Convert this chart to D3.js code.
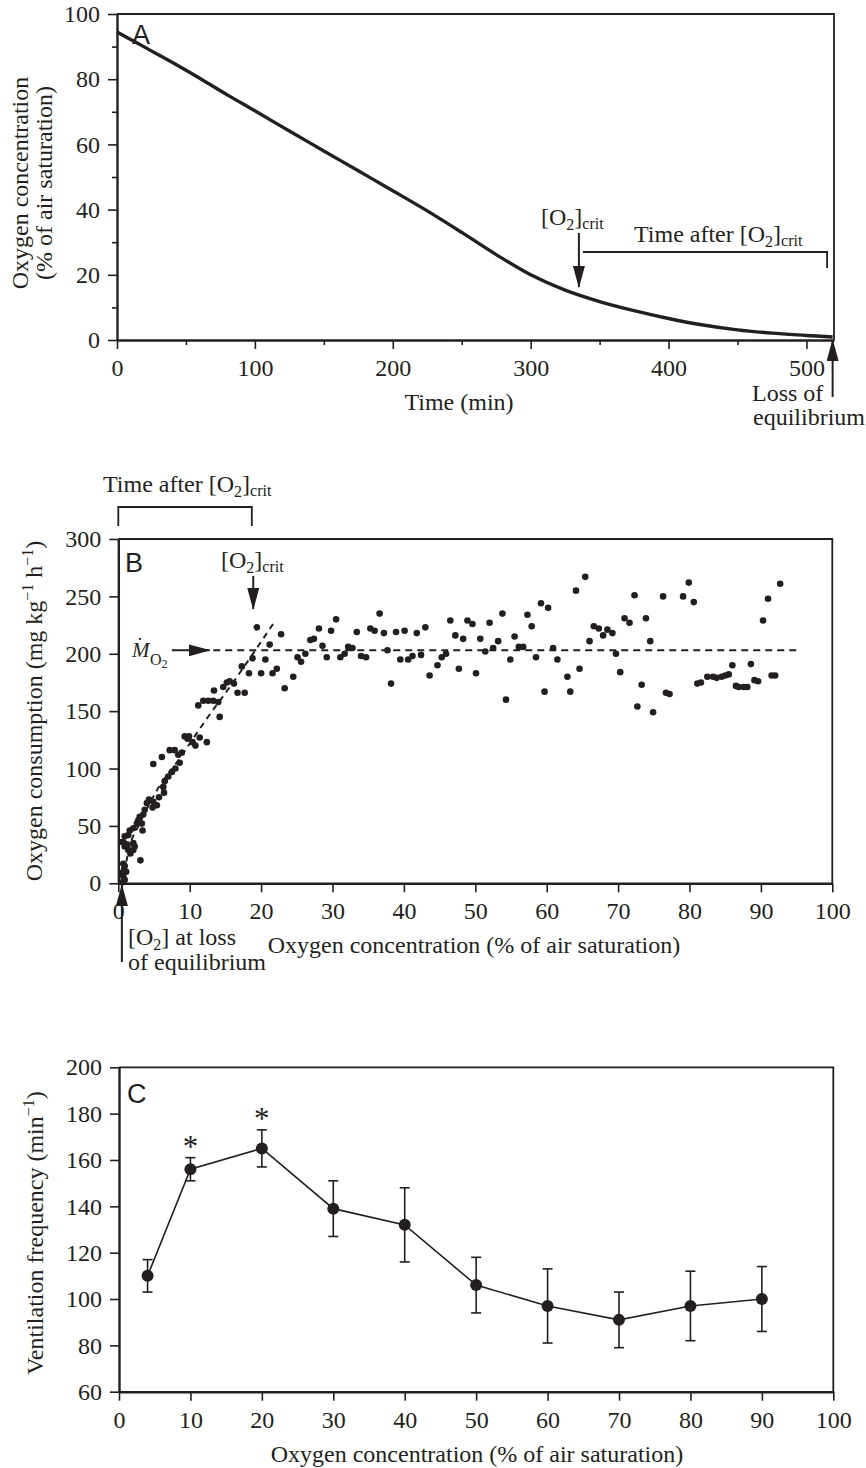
<!DOCTYPE html>
<html>
<head>
<meta charset="utf-8">
<script src="https://cdn.jsdelivr.net/npm/d3@7"></script>
<style>
body { margin: 0; background: #fff; }
svg text { font-family: "Liberation Serif", "Times New Roman", serif; fill: #231f20; }
</style>
</head>
<body>
<svg id="chart" width="866" height="1468"></svg>
<script>
// A: oxygen level in the closed respirometer over time
var timeMin = [0, 15, 30, 45, 60, 80, 100, 125, 150, 175, 200, 225, 250, 275, 300, 325, 350, 375, 400, 425, 450, 475, 500, 519]
var oxygenA = [94.5, 91, 87.5, 84, 80.3, 75.2, 70.3, 64.1, 58, 51.9, 45.8, 39.6, 33, 26.2, 20, 15.3, 11.8, 9, 6.6, 4.6, 3.1, 2.1, 1.4, 0.9]
var timeTicks = [0, 100, 200, 300, 400, 500]
var timeMinor = [50, 150, 250, 350, 450]
var oxyTicksA = [0, 20, 40, 60, 80, 100]
var oxyMinorA = [10, 30, 50, 70, 90]
var critTime = 335
var lossTime = 519

// B: oxygen consumption against oxygen concentration
var o2B = [0.6,0.9,0.7,0.5,1.1,0.8,0.9,0.7,3.1,1.7,1.4,2.1,0.9,2.3,1.2,2.1,0.7,0.5,1.4,0.9,1.6,3.4,2.1,2.6,3.3,2.8,3.0,3.5,3.7,4.8,5.4,4.0,4.9,4.3,5.7,6.4,6.3,6.5,7.0,7.5,8.0,4.9,8.6,6.1,8.4,8.9,7.2,7.9,10.8,10.4,12.4,9.7,11.4,9.3,9.9,14.2,11.2,14.0,11.9,12.6,13.3,16.7,17.7,13.4,14.7,16.2,15.2,15.6,18.3,17.3,
  19.4,18.8,20.0,20.6,21.2,21.6,22.2,22.8,23.3,24.5,25.1,25.6,26.2,26.9,27.4,28.1,28.6,29.2,29.8,30.5,31.1,31.7,32.2,32.8,33.4,34.0,34.7,35.3,35.9,36.6,37.2,37.7,38.2,38.9,39.5,40.1,40.6,41.2,41.8,42.4,43.0,43.6,44.7,45.3,45.9,46.5,47.2,47.7,48.3,48.9,49.6,50.1,50.7,51.4,52.0,52.5,53.2,53.8,54.3,54.9,55.5,56.1,56.7,57.3,57.9,58.5,59.2,59.7,60.2,
  60.9,61.5,62.9,63.3,64.1,64.6,65.4,66.0,66.6,67.3,67.9,68.5,69.2,69.7,70.3,70.9,71.6,72.3,72.7,73.3,73.9,74.5,74.9,76.3,76.7,77.2,79.1,79.9,80.6,81.1,81.6,82.5,83.3,83.8,84.5,85.0,85.5,86.0,86.5,86.9,87.6,88.1,88.6,89.1,89.6,90.3,91.0,91.5,92.0,92.7]
var mo2B = [1,3,6,9,10,12,15,17,20,26,29,29,32,32,34,35,36,36,42,41,46,46,48,52,52,55,58,60,64,66,68,70,71,73,75,79,84,89,93,97,100,104,105,110,112,114,116,116,120,123,123,126,127,128,128,145,155,158,159,159,159,166,166,168,171,174,175,176,183,189,
  223,196,183,195,208,183,187,217,170,180,197,193,200,212,213,222,207,197,220,230,197,200,206,205,219,198,197,222,220,235,218,203,174,219,195,220,195,198,218,199,223,181,190,197,200,229,216,187,213,229,226,183,213,202,227,205,211,235,160,195,215,206,206,234,224,197,244,167,240,
  205,195,180,167,255,187,267,211,224,222,216,221,218,200,184,231,227,251,154,173,231,211,149,250,166,165,250,262,245,174,175,180,180,179,180,181,182,190,172,171,171,171,191,177,176,229,248,181,181,261]
// dashed fit through the oxygen-dependent part
var fitX = [0.6, 1.5, 3, 5.5, 8.5, 12, 16.3, 22]
var fitY = [0, 30, 52, 82, 108, 140, 177, 229]
var mo2Routine = 203
var routineFrom = 13.3, routineTo = 95.2
var o2Crit = 18.9
var o2Loss = 0.5
var o2TicksB = d3.range(0, 101, 10)
var mo2Ticks = d3.range(0, 301, 50)

// C: ventilation frequency, mean with error bars
var o2C = [4, 10, 20, 30, 40, 50, 60, 70, 80, 90]
var ventFreq = [110, 156, 165, 139, 132, 106, 97, 91, 97, 100]
var ventLow = [103, 151, 157, 127, 116, 94, 81, 79, 82, 86]
var ventHigh = [117, 161, 173, 151, 148, 118, 113, 103, 112, 114]
var signif = [10, 20]
var o2TicksC = d3.range(0, 101, 10)
var ventTicks = d3.range(60, 201, 20)

var ink = '#231f20'
var svg = d3.select('#chart')

svg.append('defs').append('marker')
    .attr('id', 'head')
    .attr('viewBox', '0 0 22 12')
    .attr('refX', 21).attr('refY', 6)
    .attr('markerWidth', 22).attr('markerHeight', 12)
    .attr('markerUnits', 'userSpaceOnUse')
    .attr('orient', 'auto')
    .append('path').attr('d', 'M0,0L22,6L0,12Z').attr('fill', ink)

// text made of pieces: [string, font size, dy]
function rich(t, parts) {
    parts.forEach(p => t.append('tspan').attr('font-size', p[1]).attr('dy', p[2]).text(p[0]))
    return t
}

function arrow(x1, y1, x2, y2) {
    svg.append('line')
        .attr('x1', x1).attr('y1', y1).attr('x2', x2).attr('y2', y2)
        .attr('stroke', ink).attr('stroke-width', 2)
        .attr('marker-end', 'url(#head)')
}

function frame(x, y, xTicks, yTicks, xMinor, yMinor) {
    var xr = x.range(), yr = y.range()
    var bottom = svg.append('g')
        .attr('transform', `translate(0,${yr[0]})`)
        .call(d3.axisBottom(x).tickValues(xTicks).tickSize(9).tickPadding(10).tickSizeOuter(0))
    var left = svg.append('g')
        .attr('transform', `translate(${xr[0]},0)`)
        .call(d3.axisLeft(y).tickValues(yTicks).tickSize(9).tickPadding(8).tickSizeOuter(0))
    if (xMinor) svg.append('g').attr('transform', `translate(0,${yr[0]})`)
        .call(d3.axisBottom(x).tickValues(xMinor).tickSize(5).tickFormat('').tickSizeOuter(0))
        .call(g => g.select('.domain').remove())
    if (yMinor) svg.append('g').attr('transform', `translate(${xr[0]},0)`)
        .call(d3.axisLeft(y).tickValues(yMinor).tickSize(5).tickFormat('').tickSizeOuter(0))
        .call(g => g.select('.domain').remove())
    svg.selectAll('.tick line').attr('stroke-width', 1.6)
    ;[bottom, left].forEach(g => {
        g.attr('font-size', 24).attr('font-family', null).attr('color', ink)
        g.select('.domain').attr('stroke-width', 2.4)
    })
    svg.selectAll('.tick').attr('color', ink)
    svg.append('path')
        .attr('d', `M${xr[0]},${yr[1]}H${xr[1]}V${yr[0]}`)
        .attr('fill', 'none').attr('stroke', ink).attr('stroke-width', 1.8)
}

function yTitle(cx, cy, lines) {
    var t = svg.append('text')
        .attr('transform', `translate(${cx},${cy}) rotate(-90)`)
        .attr('text-anchor', 'middle').attr('font-size', 24)
    lines.forEach((parts, i) => {
        var first = t.append('tspan').attr('x', 0).attr('dy', i ? 24 : 0)
        parts.forEach((p, j) => {
            var s = j ? t.append('tspan') : first
            s.attr('font-size', p[1]).text(p[0])
            if (j) s.attr('dy', p[2])
        })
    })
}

function panelLetter(x, y, s) {
    svg.append('text').attr('x', x).attr('y', y)
        .attr('font-size', 27).style('font-family', '"Liberation Sans", Arial, sans-serif')
        .text(s)
}

// ---------- panel A ----------
var xA = d3.scaleLinear().domain([0, 520]).range([117, 834])
var yA = d3.scaleLinear().domain([0, 100]).range([340, 14])

frame(xA, yA, timeTicks, oxyTicksA, timeMinor, oxyMinorA)

svg.append('path')
    .datum(d3.zip(timeMin, oxygenA))
    .attr('fill', 'none').attr('stroke', ink).attr('stroke-width', 3.4)
    .attr('d', d3.line().x(d => xA(d[0])).y(d => yA(d[1])).curve(d3.curveCatmullRom))

panelLetter(132, 44, 'A')
yTitle(28, 183, [[['Oxygen concentration', 24]], [['(% of air saturation)', 24]]])
svg.append('text').attr('x', 459).attr('y', 410).attr('text-anchor', 'middle').attr('font-size', 24).text('Time (min)')

rich(svg.append('text').attr('x', 541).attr('y', 225), [['[O', 24, 0], ['2', 16, 5], [']', 24, -5], ['crit', 16, 4]])
arrow(xA(critTime), 233, xA(critTime), 287)
svg.append('path')
    .attr('d', `M${xA(critTime) + 4},252H${xA(515)}V268`)
    .attr('fill', 'none').attr('stroke', ink).attr('stroke-width', 1.8)
rich(svg.append('text').attr('x', 634).attr('y', 242), [['Time after [O', 24, 0], ['2', 16, 5], [']', 24, -5], ['crit', 16, 4]])

arrow(xA(lossTime), 397, xA(lossTime), 340)
var lossA = svg.append('text').attr('font-size', 24)
lossA.append('tspan').attr('x', 752).attr('y', 401).text('Loss of')
lossA.append('tspan').attr('x', 753).attr('y', 425).text('equilibrium')

// ---------- panel B ----------
var xB = d3.scaleLinear().domain([0, 100]).range([118.3, 832.3])
var yB = d3.scaleLinear().domain([0, 300]).range([883.3, 539])

frame(xB, yB, o2TicksB, mo2Ticks)

svg.append('path')
    .datum(d3.zip(fitX, fitY))
    .attr('fill', 'none').attr('stroke', ink).attr('stroke-width', 2).attr('stroke-dasharray', '6,5')
    .attr('d', d3.line().x(d => xB(d[0])).y(d => yB(d[1])).curve(d3.curveMonotoneX))

svg.append('line')
    .attr('x1', xB(routineFrom)).attr('x2', xB(routineTo))
    .attr('y1', yB(mo2Routine)).attr('y2', yB(mo2Routine))
    .attr('stroke', ink).attr('stroke-width', 2).attr('stroke-dasharray', '7,5')

svg.append('g').selectAll('circle')
    .data(d3.zip(o2B, mo2B))
    .enter().append('circle')
    .attr('cx', d => xB(d[0]))
    .attr('cy', d => yB(d[1]))
    .attr('r', 3.3)
    .attr('fill', ink)

panelLetter(125, 572, 'B')
yTitle(42, 711, [[['Oxygen consumption (mg kg', 24, 0], ['\u22121', 16, -9], [' h', 24, 9], ['\u22121', 16, -9], [')', 24, 9]]])
svg.append('text').attr('x', 474).attr('y', 953).attr('text-anchor', 'middle').attr('font-size', 24)
    .text('Oxygen concentration (% of air saturation)')

rich(svg.append('text').attr('x', 221).attr('y', 568), [['[O', 24, 0], ['2', 16, 5], [']', 24, -5], ['crit', 16, 4]])
arrow(xB(o2Crit), 576, xB(o2Crit), 609)

// routine MO2 marker: italic M, dot over it, subscript O2
var mLabel = svg.append('text').attr('x', 132).attr('y', 657)
mLabel.append('tspan').attr('font-size', 21).attr('font-style', 'italic').text('M')
mLabel.append('tspan').attr('font-size', 20).attr('dx', -13).attr('dy', -5).text('\u02D9')
mLabel.append('tspan').attr('font-size', 16).attr('x', 150).attr('dy', 13).text('O')
mLabel.append('tspan').attr('font-size', 12).attr('dy', 3).text('2')
arrow(xB(7.5), yB(mo2Routine), xB(12.8), yB(mo2Routine))

// bracket: time after crit
svg.append('path')
    .attr('d', `M${xB(0)},526V507H${xB(18.7)}V526`)
    .attr('fill', 'none').attr('stroke', ink).attr('stroke-width', 1.8)
rich(svg.append('text').attr('x', 103).attr('y', 492), [['Time after [O', 24, 0], ['2', 16, 5], [']', 24, -5], ['crit', 16, 4]])

arrow(xB(o2Loss), 962, xB(o2Loss), 885)
var lossB = svg.append('text').attr('x', 128).attr('y', 945).attr('font-size', 24)
rich(lossB, [['[O', 24, 0], ['2', 16, 5], ['] at loss', 24, -5]])
lossB.append('tspan').attr('x', 128).attr('y', 970).text('of equilibrium')

// ---------- panel C ----------
var xC = d3.scaleLinear().domain([0, 100]).range([119, 833.3])
var yC = d3.scaleLinear().domain([60, 200]).range([1391.7, 1067.3])

frame(xC, yC, o2TicksC, ventTicks)

var rows = o2C.map((o, i) => ({o: o, v: ventFreq[i], lo: ventLow[i], hi: ventHigh[i]}))

svg.append('path')
    .datum(rows)
    .attr('fill', 'none').attr('stroke', ink).attr('stroke-width', 1.6)
    .attr('d', d3.line().x(d => xC(d.o)).y(d => yC(d.v)))

var bars = svg.append('g').attr('stroke', ink).attr('stroke-width', 1.6)
bars.selectAll('.stem').data(rows).enter().append('line')
    .attr('x1', d => xC(d.o)).attr('x2', d => xC(d.o))
    .attr('y1', d => yC(d.lo)).attr('y2', d => yC(d.hi))
bars.selectAll('.cap').data(rows.flatMap(d => [d.lo, d.hi].map(v => ({o: d.o, v: v}))))
    .enter().append('line')
    .attr('x1', d => xC(d.o) - 5).attr('x2', d => xC(d.o) + 5)
    .attr('y1', d => yC(d.v)).attr('y2', d => yC(d.v))

svg.append('g').selectAll('circle').data(rows)
    .enter().append('circle')
    .attr('cx', d => xC(d.o)).attr('cy', d => yC(d.v))
    .attr('r', 6).attr('fill', ink)

svg.append('g').selectAll('text').data(rows.filter(d => signif.includes(d.o)))
    .enter().append('text')
    .attr('x', d => xC(d.o)).attr('y', d => yC(d.hi) - 1)
    .attr('text-anchor', 'middle').attr('font-size', 31)
    .text('*')

panelLetter(127, 1103, 'C')
yTitle(43, 1233, [[['Ventilation frequency (min', 24, 0], ['\u22121', 16, -9], [')', 24, 9]]])
svg.append('text').attr('x', 477).attr('y', 1462).attr('text-anchor', 'middle').attr('font-size', 24)
    .text('Oxygen concentration (% of air saturation)')
</script>
</body>
</html>
